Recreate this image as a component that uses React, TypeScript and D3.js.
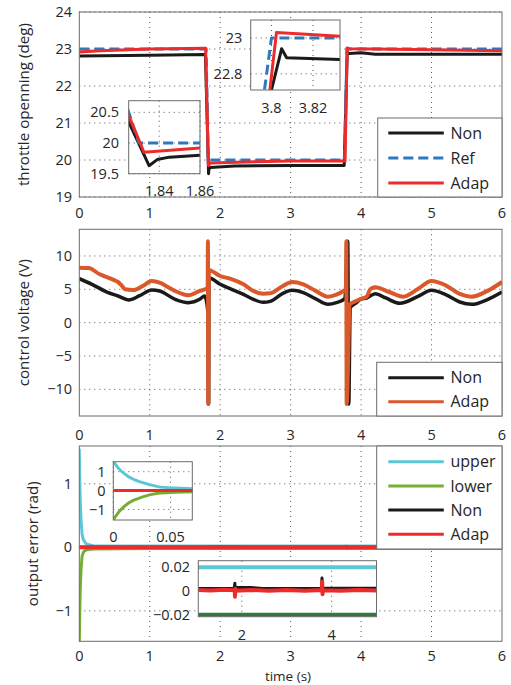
import React from 'react';
import * as d3 from 'd3';

type Pt = [number, number];

const FONT = "'Open Sans', 'DejaVu Sans', sans-serif";
const TEXT = '#262626';
const FRAME = '#6b6b6b';
const GRID = '#555555';

const C_BLACK = '#1a1a1a';
const C_RED = '#ee2b2b';
const C_BLUE = '#2e78bd';
const C_ORANGE = '#d9592b';
const C_CYAN = '#5cc7d4';
const C_GREEN = '#78ad34';
const C_DKGREEN = '#2f7a3e';

const xTicks = [0, 1, 2, 3, 4, 5, 6];

// ---------- panel 1 : throttle opening ----------
const thrTicks = [19, 20, 21, 22, 23, 24];
const refThr: Pt[] = [[0, 23], [1.8, 23], [1.83, 20], [3.765, 20], [3.8, 23], [6, 23]];
const nonThr: Pt[] = [
  [0, 22.81], [1.0, 22.83], [1.79, 22.85], [1.835, 19.63], [1.839, 19.73], [1.845, 19.77],
  [1.86, 19.8], [2.2, 19.84], [3.0, 19.85], [3.76, 19.85], [3.8, 22.71], [3.8049, 22.94],
  [3.8073, 22.89], [3.833, 22.88], [4.0, 22.9], [4.2, 22.86], [6, 22.86],
];
const adapThr: Pt[] = [
  [0, 22.92], [0.3, 22.95], [1.0, 23.0], [1.793, 23.02], [1.8325, 19.85], [1.86, 19.92],
  [2.5, 19.95], [3.0, 19.97], [3.772, 19.97], [3.8024, 23.03], [3.833, 23.01], [4.2, 23.0], [6, 22.95],
];

// ---------- panel 2 : control voltage ----------
const voltTicks = [-10, -5, 0, 5, 10];
const nonVolt: Pt[] = [
  [0, 6.6], [0.18, 5.75], [0.41, 4.5], [0.55, 4.0], [0.7, 3.4], [0.85, 4.0], [1.03, 4.9],
  [1.14, 4.75], [1.36, 3.5], [1.55, 3.0], [1.71, 3.5], [1.78, 4.0], [1.826, 1.5], [1.832, -12.2],
  [1.836, -12.2], [1.84, 6.75], [1.878, 6.6], [2.0, 5.75], [2.14, 5.1], [2.33, 4.25], [2.47, 3.5],
  [2.61, 3.05], [2.71, 3.2], [2.89, 4.4], [3.02, 4.85], [3.18, 4.5], [3.35, 3.6], [3.53, 2.75],
  [3.65, 3.0], [3.77, 3.6], [3.81, 12.2], [3.825, -12.2], [3.845, 2.25], [3.92, 2.9], [3.99, 3.5],
  [4.08, 3.7], [4.2, 4.35], [4.35, 3.7], [4.55, 2.9], [4.8, 3.9], [5.0, 4.85], [5.2, 4.2],
  [5.4, 3.1], [5.57, 2.75], [5.8, 3.5], [6.0, 4.6],
];
const adapVolt: Pt[] = [
  [0, 8.25], [0.13, 8.2], [0.29, 7.25], [0.41, 6.75], [0.51, 6.3], [0.55, 6.1], [0.6, 5.6],
  [0.65, 5.0], [0.77, 4.9], [0.9, 5.5], [1.03, 6.25], [1.14, 6.0], [1.25, 5.4], [1.36, 4.75],
  [1.55, 4.1], [1.71, 4.75], [1.78, 5.0], [1.822, 5.1], [1.826, 12.2], [1.83, -12.2], [1.84, 7.9],
  [1.878, 7.75], [2.0, 7.0], [2.14, 6.6], [2.33, 5.75], [2.47, 4.75], [2.61, 4.35], [2.71, 4.4],
  [2.89, 5.5], [3.02, 6.1], [3.18, 5.75], [3.35, 4.8], [3.53, 3.9], [3.65, 4.2], [3.75, 4.75],
  [3.785, 5.0], [3.79, 12.2], [3.795, -12.2], [3.84, 2.75], [3.92, 3.2], [3.99, 3.55], [4.08, 3.9],
  [4.13, 5.0], [4.2, 5.3], [4.4, 4.6], [4.6, 3.9], [4.8, 5.0], [5.0, 6.25], [5.2, 5.6], [5.4, 4.3],
  [5.57, 3.9], [5.8, 4.8], [6.0, 6.1],
];

// ---------- panel 3 : output error ----------
const errTicks = [-1, 0, 1];
const upperErr: Pt[] = [
  [0, 1.55], [0.0044, 1.19], [0.013, 0.74], [0.025, 0.43], [0.039, 0.21], [0.054, 0.13],
  [0.069, 0.1], [0.1, 0.05], [0.2, 0.025], [1, 0.02], [6, 0.02],
];
const lowerErr: Pt[] = [
  [0, -1.55], [0.0044, -1.17], [0.013, -0.67], [0.025, -0.35], [0.039, -0.14], [0.054, -0.09],
  [0.069, -0.06], [0.1, -0.04], [0.2, -0.025], [1, -0.02], [6, -0.02],
];
const nonErr: Pt[] = [
  [0, 0], [0.1, 0.001], [1.0, 0.0022], [1.83, 0.0022], [1.845, 0.0065], [1.85, 0.0032],
  [2.2, 0.003], [2.45, 0.0022], [3.78, 0.0022], [3.785, 0.011], [3.8, 0.0025], [5, 0.0023], [6, 0.0023],
];
const adapErr: Pt[] = [
  [0, 0], [1.03, 0.0008], [1.3, 0.0004], [1.6, 0.001], [1.84, 0.0006], [1.848, -0.0048],
  [1.855, 0.002], [1.87, 0.0002], [2.2, 0.0009], [2.6, 0.0003], [3.0, 0.0008], [3.4, 0.0002],
  [3.78, 0.0008], [3.79, 0.0078], [3.797, -0.0028], [3.81, 0.0006], [4.2, 0.0003], [4.6, 0.0009],
  [5, 0.0005], [6, 0.0006],
];

const fmt = (v: number) => String(v).replace('-', '\u2212');

const X0 = 79.3;
const X1 = 502;
const xMain = d3.scaleLinear().domain([0, 6]).range([X0, X1]);

type Series = { data: Pt[]; color: string; width: number; dash?: string; smooth?: boolean };

function Lines({ series, x, y, clipId }: { series: Series[]; x: any; y: any; clipId: string }) {
  return (
    <g clipPath={`url(#${clipId})`}>
      {series.map((s, i) => {
        const line = d3.line<Pt>().x((d) => x(d[0])).y((d) => y(d[1]));
        if (s.smooth) line.curve(d3.curveMonotoneX);
        return (
          <path
            key={i}
            d={line(s.data) || ''}
            fill="none"
            stroke={s.color}
            strokeWidth={s.width}
            strokeDasharray={s.dash}
            strokeLinejoin="round"
          />
        );
      })}
    </g>
  );
}

type Inset = {
  id: string;
  x0: number; x1: number; y0: number; y1: number;
  xDom: [number, number]; yDom: [number, number];
  xT: number[]; yT: number[];
  yLabRight: number; xLabBase: number;
  series: Series[];
};

function InsetView({ ins }: { ins: Inset }) {
  const x = d3.scaleLinear().domain(ins.xDom).range([ins.x0, ins.x1]);
  const y = d3.scaleLinear().domain(ins.yDom).range([ins.y1, ins.y0]);
  return (
    <g>
      <defs>
        <clipPath id={ins.id}>
          <rect x={ins.x0} y={ins.y0} width={ins.x1 - ins.x0} height={ins.y1 - ins.y0} />
        </clipPath>
      </defs>
      <rect x={ins.x0} y={ins.y0} width={ins.x1 - ins.x0} height={ins.y1 - ins.y0} fill="#fff" />
      {ins.xT.map((t) => (
        <line key={'gx' + t} x1={x(t)} x2={x(t)} y1={ins.y0} y2={ins.y1} stroke={GRID} strokeWidth={1} strokeDasharray="1,4" />
      ))}
      {ins.yT.map((t) => (
        <line key={'gy' + t} x1={ins.x0} x2={ins.x1} y1={y(t)} y2={y(t)} stroke={GRID} strokeWidth={1} strokeDasharray="1,4" />
      ))}
      <Lines series={ins.series} x={x} y={y} clipId={ins.id} />
      <rect x={ins.x0} y={ins.y0} width={ins.x1 - ins.x0} height={ins.y1 - ins.y0} fill="none" stroke={FRAME} strokeWidth={1} />
      {ins.yT.map((t) => (
        <text key={'ly' + t} x={ins.yLabRight} y={y(t)} dy="0.35em" textAnchor="end" fontSize={14.5} fill={TEXT} fontFamily={FONT}>
          {fmt(t)}
        </text>
      ))}
      {ins.xT.map((t) => (
        <text key={'lx' + t} x={x(t)} y={ins.xLabBase} textAnchor="middle" fontSize={14.5} fill={TEXT} fontFamily={FONT}>
          {fmt(t)}
        </text>
      ))}
    </g>
  );
}

type LegendEntry = { label: string; color: string; width: number; dash?: string };

function Legend({ x0, y0, y1, rows, entries }: { x0: number; y0: number; y1: number; rows: number[]; entries: LegendEntry[] }) {
  return (
    <g>
      <rect x={x0} y={y0} width={X1 - x0} height={y1 - y0} fill="#fff" stroke={FRAME} strokeWidth={1} />
      {entries.map((e, i) => (
        <g key={e.label}>
          <line x1={388.3} x2={443.8} y1={rows[i]} y2={rows[i]} stroke={e.color} strokeWidth={e.width} strokeDasharray={e.dash} />
          <text x={450.5} y={rows[i]} dy="0.36em" fontSize={16} fill={TEXT} fontFamily={FONT}>
            {e.label}
          </text>
        </g>
      ))}
    </g>
  );
}

function Panel({
  id, top, bottom, yDom, yT, base, label, labelX, children, series,
}: {
  id: string; top: number; bottom: number; yDom: [number, number]; yT: number[]; base: number;
  label: string; labelX: number; children?: any; series: Series[];
}) {
  const y = d3.scaleLinear().domain(yDom).range([bottom, top]);
  return (
    <g>
      <defs>
        <clipPath id={id}>
          <rect x={X0} y={top} width={X1 - X0} height={bottom - top} />
        </clipPath>
      </defs>
      <rect x={X0} y={top} width={X1 - X0} height={bottom - top} fill="#fff" />
      {xTicks.slice(1, -1).map((t) => (
        <line key={'gx' + t} x1={xMain(t)} x2={xMain(t)} y1={top} y2={bottom} stroke={GRID} strokeWidth={1} strokeDasharray="1,4" />
      ))}
      {yT.map((t) => (
        <line key={'gy' + t} x1={X0} x2={X1} y1={y(t)} y2={y(t)} stroke={GRID} strokeWidth={1} strokeDasharray="1,4" />
      ))}
      <Lines series={series} x={xMain} y={y} clipId={id} />
      <rect x={X0} y={top} width={X1 - X0} height={bottom - top} fill="none" stroke={FRAME} strokeWidth={1} />
      {yT.map((t) => (
        <text key={'ly' + t} x={72} y={y(t)} dy="0.35em" textAnchor="end" fontSize={14.5} fill={TEXT} fontFamily={FONT}>
          {fmt(t)}
        </text>
      ))}
      {xTicks.map((t) => (
        <text key={'lx' + t} x={xMain(t)} y={base} textAnchor="middle" fontSize={14.5} fill={TEXT} fontFamily={FONT}>
          {fmt(t)}
        </text>
      ))}
      <text
        transform={`translate(${labelX}, ${(top + bottom) / 2}) rotate(-90)`}
        textAnchor="middle"
        fontSize={15.2}
        fill={TEXT}
        fontFamily={FONT}
      >
        {label}
      </text>
      {children}
    </g>
  );
}

export default function App() {
  const thrSeries: Series[] = [
    { data: nonThr, color: C_BLACK, width: 3 },
    { data: refThr, color: C_BLUE, width: 3, dash: '10,5' },
    { data: adapThr, color: C_RED, width: 3 },
  ];
  const thrInset1: Inset = {
    id: 'ins1', x0: 128.7, x1: 200, y0: 100.7, y1: 173.7,
    xDom: [1.825, 1.86], yDom: [19.5, 20.69], xT: [1.84, 1.86], yT: [19.5, 20, 20.5],
    yLabRight: 119, xLabBase: 196, series: thrSeries,
  };
  const thrInset2: Inset = {
    id: 'ins2', x0: 250.7, x1: 340, y0: 20, y1: 90,
    xDom: [3.79, 3.833], yDom: [22.71, 23.1], xT: [3.8, 3.82], yT: [22.8, 23],
    yLabRight: 242.3, xLabBase: 113, series: thrSeries,
  };
  const voltSeries: Series[] = [
    { data: nonVolt, color: C_BLACK, width: 3.5, smooth: true },
    { data: adapVolt, color: C_ORANGE, width: 4, smooth: true },
  ];
  const errSeries: Series[] = [
    { data: upperErr, color: C_CYAN, width: 3 },
    { data: lowerErr, color: C_GREEN, width: 3 },
    { data: nonErr, color: C_BLACK, width: 3 },
    { data: adapErr, color: C_RED, width: 4 },
  ];
  const errInset1: Inset = {
    id: 'ins3', x0: 113.3, x1: 192.3, y0: 461.7, y1: 520,
    xDom: [0, 0.069], yDom: [-1.56, 1.53], xT: [0, 0.05], yT: [-1, 0, 1],
    yLabRight: 105.5, xLabBase: 541.7,
    series: [
      { data: upperErr, color: C_CYAN, width: 3, smooth: true },
      { data: lowerErr, color: C_GREEN, width: 3, smooth: true },
      { data: nonErr, color: C_BLACK, width: 3 },
      { data: adapErr, color: C_RED, width: 3 },
    ],
  };
  const errInset2: Inset = {
    id: 'ins4', x0: 198.3, x1: 376.5, y0: 560.7, y1: 616.7,
    xDom: [1.03, 5.0], yDom: [-0.0217, 0.0256], xT: [2, 4], yT: [-0.02, 0, 0.02],
    yLabRight: 190, xLabBase: 640,
    series: [
      { data: upperErr, color: C_CYAN, width: 4 },
      { data: lowerErr, color: C_DKGREEN, width: 4 },
      { data: nonErr, color: C_BLACK, width: 3 },
      { data: adapErr, color: C_RED, width: 4 },
    ],
  };

  return (
    <svg width={511} height={685} style={{ position: 'absolute', left: 0, top: 0, display: 'block' }}>
      <rect x={0} y={0} width={511} height={685} fill="#fff" />
      <Panel id="p1" top={12} bottom={197} yDom={[19, 24]} yT={thrTicks} base={218}
        label="throttle openning (deg)" labelX={29} series={thrSeries}>
        <InsetView ins={thrInset1} />
        <InsetView ins={thrInset2} />
        <Legend x0={377.7} y0={118} y1={197} rows={[133, 158, 183]}
          entries={[
            { label: 'Non', color: C_BLACK, width: 3 },
            { label: 'Ref', color: C_BLUE, width: 3, dash: '10,5' },
            { label: 'Adap', color: C_RED, width: 3 },
          ]} />
      </Panel>
      <Panel id="p2" top={229.3} bottom={416} yDom={[-14, 14]} yT={voltTicks} base={440}
        label="control voltage (V)" labelX={29} series={voltSeries}>
        <Legend x0={376.7} y0={362.3} y1={416} rows={[377.7, 401.7]}
          entries={[
            { label: 'Non', color: C_BLACK, width: 3 },
            { label: 'Adap', color: C_ORANGE, width: 3 },
          ]} />
      </Panel>
      <Panel id="p3" top={446} bottom={641.3} yDom={[-1.48, 1.595]} yT={errTicks} base={661}
        label="output error (rad)" labelX={38} series={errSeries}>
        <InsetView ins={errInset1} />
        <InsetView ins={errInset2} />
        <Legend x0={376.7} y0={446} y1={549} rows={[461.7, 486, 510, 534.3]}
          entries={[
            { label: 'upper', color: C_CYAN, width: 3 },
            { label: 'lower', color: C_GREEN, width: 3 },
            { label: 'Non', color: C_BLACK, width: 3 },
            { label: 'Adap', color: C_RED, width: 3 },
          ]} />
      </Panel>
      <text x={288} y={680.5} textAnchor="middle" fontSize={13.5} fill={TEXT} fontFamily={FONT}>
        time (s)
      </text>
    </svg>
  );
}
